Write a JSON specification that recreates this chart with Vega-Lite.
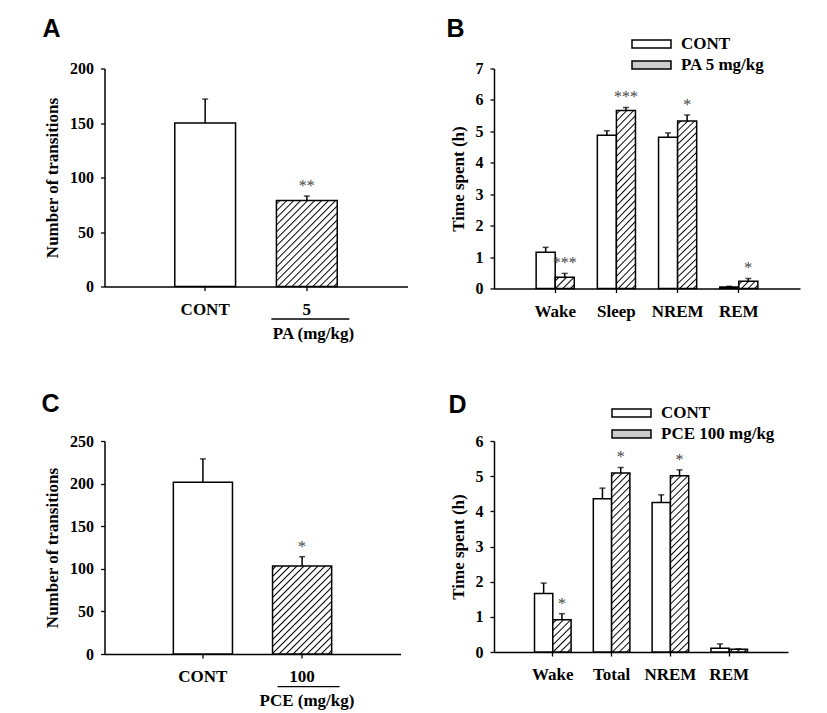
{
"$schema":"https://vega.github.io/schema/vega-lite/v6.json",
"background":"#ffffff",
"padding":{"left":41.5,"top":16.5,"right":5,"bottom":5},
"columns":2,
"spacing":{"row":152.5,"column":86.5},
"bounds":"flush",
"resolve":{"scale":{"fill":"independent","xOffset":"independent"},"legend":{"fill":"independent"}},
"config":{
"view":{"stroke":null},
"font":"Liberation Serif",
"axis":{"grid":false,"domainColor":"#000","domainWidth":1.5,"tickColor":"#000","tickWidth":1.3,"tickSize":4,"labelFont":"Liberation Serif","labelFontWeight":"bold","labelColor":"#000","titleFont":"Liberation Serif","titleFontWeight":"bold","titleColor":"#000"},
"axisX":{"labelFontSize":17,"labelPadding":10.5,"labelAngle":0},
"axisY":{"labelFontSize":16,"labelPadding":7,"titleFontSize":17,"titlePadding":8},
"title":{"font":"Liberation Sans","fontSize":25,"fontWeight":"bold","color":"#000","anchor":"start","frame":"group","baseline":"alphabetic"}
},
"concat":[
{
"width":303,"height":218,
"title":{"text":"A","dx":-62,"offset":18.5},
"data":{"values":[{"group":"CONT","mean":150,"err":172,"sig":""},{"group":"5","mean":79,"err":83,"sig":"**"}]},
"encoding":{
"x":{"field":"group","type":"nominal","title":"PA (mg/kg)","scale":{"domain":["CONT","5"],"paddingInner":0.402,"paddingOuter":0.691},"axis":{"title":"PA (mg/kg)","titleX":208.5,"titleY":47,"titleBaseline":"middle","titleFontSize":17}},
"y":{"field":"mean","type":"quantitative","title":"Number of transitions","scale":{"domain":[0,200],"nice":false},"axis":{"title":"Number of transitions","values":[0,50,100,150,200]}}
},
"layer":[
{"transform":[{"filter":"datum.group == 'CONT'"}],"mark":{"type":"bar","fill":"#fff","stroke":"#000","strokeWidth":1.5}},
{"transform":[{"filter":"datum.group == '5'"}],"mark":{"type":"bar","stroke":"#000","strokeWidth":1.5,"fill":{"gradient":"linear","x1":0,"y1":0,"x2":0.8066,"y2":1.1372,"stops":[{"offset":0.0143,"color":"#fff"},{"offset":0.0238,"color":"#000"},{"offset":0.0333,"color":"#fff"},{"offset":0.0619,"color":"#fff"},{"offset":0.0714,"color":"#000"},{"offset":0.0809,"color":"#fff"},{"offset":0.1095,"color":"#fff"},{"offset":0.119,"color":"#000"},{"offset":0.1285,"color":"#fff"},{"offset":0.1572,"color":"#fff"},{"offset":0.1667,"color":"#000"},{"offset":0.1762,"color":"#fff"},{"offset":0.2048,"color":"#fff"},{"offset":0.2143,"color":"#000"},{"offset":0.2238,"color":"#fff"},{"offset":0.2524,"color":"#fff"},{"offset":0.2619,"color":"#000"},{"offset":0.2714,"color":"#fff"},{"offset":0.3,"color":"#fff"},{"offset":0.3095,"color":"#000"},{"offset":0.319,"color":"#fff"},{"offset":0.3476,"color":"#fff"},{"offset":0.3571,"color":"#000"},{"offset":0.3666,"color":"#fff"},{"offset":0.3953,"color":"#fff"},{"offset":0.4048,"color":"#000"},{"offset":0.4143,"color":"#fff"},{"offset":0.4429,"color":"#fff"},{"offset":0.4524,"color":"#000"},{"offset":0.4619,"color":"#fff"},{"offset":0.4905,"color":"#fff"},{"offset":0.5,"color":"#000"},{"offset":0.5095,"color":"#fff"},{"offset":0.5381,"color":"#fff"},{"offset":0.5476,"color":"#000"},{"offset":0.5571,"color":"#fff"},{"offset":0.5857,"color":"#fff"},{"offset":0.5952,"color":"#000"},{"offset":0.6047,"color":"#fff"},{"offset":0.6334,"color":"#fff"},{"offset":0.6429,"color":"#000"},{"offset":0.6524,"color":"#fff"},{"offset":0.681,"color":"#fff"},{"offset":0.6905,"color":"#000"},{"offset":0.7,"color":"#fff"},{"offset":0.7286,"color":"#fff"},{"offset":0.7381,"color":"#000"},{"offset":0.7476,"color":"#fff"},{"offset":0.7762,"color":"#fff"},{"offset":0.7857,"color":"#000"},{"offset":0.7952,"color":"#fff"},{"offset":0.8238,"color":"#fff"},{"offset":0.8333,"color":"#000"},{"offset":0.8428,"color":"#fff"},{"offset":0.8715,"color":"#fff"},{"offset":0.881,"color":"#000"},{"offset":0.8905,"color":"#fff"},{"offset":0.9191,"color":"#fff"},{"offset":0.9286,"color":"#000"},{"offset":0.9381,"color":"#fff"},{"offset":0.9667,"color":"#fff"},{"offset":0.9762,"color":"#000"},{"offset":0.9857,"color":"#fff"}]}}},
{"mark":{"type":"rule","color":"#000","strokeWidth":1.5},"encoding":{"y2":{"field":"err"}}},
{"mark":{"type":"tick","color":"#000","size":6,"thickness":1.5},"encoding":{"y":{"field":"err","type":"quantitative","title":"Number of transitions"}}},
{"mark":{"type":"text","font":"Liberation Serif","fontSize":16,"fill":"#444","baseline":"alphabetic","dy":-5},"encoding":{"y":{"field":"err","type":"quantitative","title":"Number of transitions"},"text":{"field":"sig"}}},
{"transform":[{"filter":"datum.group == '5'"}],"mark":{"type":"rule","color":"#000","strokeWidth":1.3,"xOffset":-35.5,"x2Offset":42.5,"yOffset":32.5},"encoding":{"x":{"datum":"5","title":"PA (mg/kg)"},"x2":{"datum":"5"},"y":{"datum":0,"title":"Number of transitions"}}}
]
},
{
"width":306,"height":220,
"title":{"text":"B","dx":-47.5,"offset":-5.5},
"data":{"values":[
{"state":"Wake","treat":"CONT","mean":1.15,"err":1.31,"sig":""},
{"state":"Wake","treat":"PA 5 mg/kg","mean":0.36,"err":0.48,"sig":"***"},
{"state":"Sleep","treat":"CONT","mean":4.88,"err":5.02,"sig":""},
{"state":"Sleep","treat":"PA 5 mg/kg","mean":5.66,"err":5.76,"sig":"***"},
{"state":"NREM","treat":"CONT","mean":4.81,"err":4.95,"sig":""},
{"state":"NREM","treat":"PA 5 mg/kg","mean":5.33,"err":5.52,"sig":"*"},
{"state":"REM","treat":"CONT","mean":0.05,"err":0.07,"sig":""},
{"state":"REM","treat":"PA 5 mg/kg","mean":0.23,"err":0.32,"sig":"*"}
]},
"encoding":{
"x":{"field":"state","type":"nominal","scale":{"domain":["Wake","Sleep","NREM","REM"],"paddingInner":0.377,"paddingOuter":0.6885},"axis":{"title":null}},
"xOffset":{"field":"treat","type":"nominal","scale":{"domain":["CONT","PA 5 mg/kg"]}},
"y":{"field":"mean","type":"quantitative","title":"Time spent (h)","scale":{"domain":[0,7],"nice":false},"axis":{"title":"Time spent (h)","values":[0,1,2,3,4,5,6,7]}}
},
"layer":[
{"transform":[{"filter":"datum.treat == 'CONT'"}],"mark":{"type":"bar","stroke":"#000","strokeWidth":1.5},
"encoding":{"fill":{"field":"treat","type":"nominal","scale":{"domain":["CONT","PA 5 mg/kg"],"range":["#fff","#ccc"]},
"legend":{"title":null,"orient":"none","legendX":137,"legendY":-32.5,"direction":"vertical","symbolType":"M-1,-0.205L1,-0.205L1,0.205L-1,0.205Z","symbolSize":1521,"symbolStrokeColor":"#000","symbolStrokeWidth":1.5,"symbolOpacity":1,"labelFont":"Liberation Serif","labelFontSize":17,"labelFontWeight":"bold","labelColor":"#000","labelOffset":9,"rowPadding":4,"clipHeight":16,"padding":0,
"encoding":{"symbols":{"stroke":{"value":"#000"},"strokeWidth":{"value":1.5},"fill":{"value":{"expr":"datum.value === 'CONT' ? '#fff' : {gradient: 'linear', x1: 0, y1: 0, x2: 1.1565, y2: 0.2372, stops: [{offset: 0.0434, color: '#fff'}, {offset: 0.0714, color: '#000'}, {offset: 0.0994, color: '#fff'}, {offset: 0.1863, color: '#fff'}, {offset: 0.2143, color: '#000'}, {offset: 0.2423, color: '#fff'}, {offset: 0.3291, color: '#fff'}, {offset: 0.3571, color: '#000'}, {offset: 0.3851, color: '#fff'}, {offset: 0.472, color: '#fff'}, {offset: 0.5, color: '#000'}, {offset: 0.528, color: '#fff'}, {offset: 0.6149, color: '#fff'}, {offset: 0.6429, color: '#000'}, {offset: 0.6709, color: '#fff'}, {offset: 0.7577, color: '#fff'}, {offset: 0.7857, color: '#000'}, {offset: 0.8137, color: '#fff'}, {offset: 0.9006, color: '#fff'}, {offset: 0.9286, color: '#000'}, {offset: 0.9566, color: '#fff'}]}"}}}}}}}},
{"transform":[{"filter":"datum.treat != 'CONT' && datum.state == 'Wake'"}],"mark":{"type":"bar","stroke":"#000","strokeWidth":1.5,"fill":{"gradient":"linear","x1":0,"y1":0,"x2":1.178,"y2":0.7006,"stops":[{"offset":0.075,"color":"#fff"},{"offset":0.125,"color":"#000"},{"offset":0.175,"color":"#fff"},{"offset":0.325,"color":"#fff"},{"offset":0.375,"color":"#000"},{"offset":0.425,"color":"#fff"},{"offset":0.575,"color":"#fff"},{"offset":0.625,"color":"#000"},{"offset":0.675,"color":"#fff"},{"offset":0.825,"color":"#fff"},{"offset":0.875,"color":"#000"},{"offset":0.925,"color":"#fff"}]}}},
{"transform":[{"filter":"datum.treat != 'CONT' && (datum.state == 'Sleep' || datum.state == 'NREM')"}],"mark":{"type":"bar","stroke":"#000","strokeWidth":1.5,"fill":{"gradient":"linear","x1":0,"y1":0,"x2":0.121,"y2":1.097,"stops":[{"offset":0.0109,"color":"#fff"},{"offset":0.0179,"color":"#000"},{"offset":0.0249,"color":"#fff"},{"offset":0.0466,"color":"#fff"},{"offset":0.0536,"color":"#000"},{"offset":0.0606,"color":"#fff"},{"offset":0.0823,"color":"#fff"},{"offset":0.0893,"color":"#000"},{"offset":0.0963,"color":"#fff"},{"offset":0.118,"color":"#fff"},{"offset":0.125,"color":"#000"},{"offset":0.132,"color":"#fff"},{"offset":0.1537,"color":"#fff"},{"offset":0.1607,"color":"#000"},{"offset":0.1677,"color":"#fff"},{"offset":0.1894,"color":"#fff"},{"offset":0.1964,"color":"#000"},{"offset":0.2034,"color":"#fff"},{"offset":0.2251,"color":"#fff"},{"offset":0.2321,"color":"#000"},{"offset":0.2391,"color":"#fff"},{"offset":0.2609,"color":"#fff"},{"offset":0.2679,"color":"#000"},{"offset":0.2749,"color":"#fff"},{"offset":0.2966,"color":"#fff"},{"offset":0.3036,"color":"#000"},{"offset":0.3106,"color":"#fff"},{"offset":0.3323,"color":"#fff"},{"offset":0.3393,"color":"#000"},{"offset":0.3463,"color":"#fff"},{"offset":0.368,"color":"#fff"},{"offset":0.375,"color":"#000"},{"offset":0.382,"color":"#fff"},{"offset":0.4037,"color":"#fff"},{"offset":0.4107,"color":"#000"},{"offset":0.4177,"color":"#fff"},{"offset":0.4394,"color":"#fff"},{"offset":0.4464,"color":"#000"},{"offset":0.4534,"color":"#fff"},{"offset":0.4751,"color":"#fff"},{"offset":0.4821,"color":"#000"},{"offset":0.4891,"color":"#fff"},{"offset":0.5109,"color":"#fff"},{"offset":0.5179,"color":"#000"},{"offset":0.5249,"color":"#fff"},{"offset":0.5466,"color":"#fff"},{"offset":0.5536,"color":"#000"},{"offset":0.5606,"color":"#fff"},{"offset":0.5823,"color":"#fff"},{"offset":0.5893,"color":"#000"},{"offset":0.5963,"color":"#fff"},{"offset":0.618,"color":"#fff"},{"offset":0.625,"color":"#000"},{"offset":0.632,"color":"#fff"},{"offset":0.6537,"color":"#fff"},{"offset":0.6607,"color":"#000"},{"offset":0.6677,"color":"#fff"},{"offset":0.6894,"color":"#fff"},{"offset":0.6964,"color":"#000"},{"offset":0.7034,"color":"#fff"},{"offset":0.7251,"color":"#fff"},{"offset":0.7321,"color":"#000"},{"offset":0.7391,"color":"#fff"},{"offset":0.7609,"color":"#fff"},{"offset":0.7679,"color":"#000"},{"offset":0.7749,"color":"#fff"},{"offset":0.7966,"color":"#fff"},{"offset":0.8036,"color":"#000"},{"offset":0.8106,"color":"#fff"},{"offset":0.8323,"color":"#fff"},{"offset":0.8393,"color":"#000"},{"offset":0.8463,"color":"#fff"},{"offset":0.868,"color":"#fff"},{"offset":0.875,"color":"#000"},{"offset":0.882,"color":"#fff"},{"offset":0.9037,"color":"#fff"},{"offset":0.9107,"color":"#000"},{"offset":0.9177,"color":"#fff"},{"offset":0.9394,"color":"#fff"},{"offset":0.9464,"color":"#000"},{"offset":0.9534,"color":"#fff"},{"offset":0.9751,"color":"#fff"},{"offset":0.9821,"color":"#000"},{"offset":0.9891,"color":"#fff"}]}}},
{"transform":[{"filter":"datum.treat != 'CONT' && datum.state == 'REM'"}],"mark":{"type":"bar","stroke":"#000","strokeWidth":1.5,"fill":{"gradient":"linear","x1":0,"y1":0,"x2":1.206,"y2":0.457,"stops":[{"offset":0.075,"color":"#fff"},{"offset":0.125,"color":"#000"},{"offset":0.175,"color":"#fff"},{"offset":0.325,"color":"#fff"},{"offset":0.375,"color":"#000"},{"offset":0.425,"color":"#fff"},{"offset":0.575,"color":"#fff"},{"offset":0.625,"color":"#000"},{"offset":0.675,"color":"#fff"},{"offset":0.825,"color":"#fff"},{"offset":0.875,"color":"#000"},{"offset":0.925,"color":"#fff"}]}}},
{"mark":{"type":"rule","color":"#000","strokeWidth":1.5},"encoding":{"y2":{"field":"err"}}},
{"mark":{"type":"tick","color":"#000","size":6,"thickness":1.5},"encoding":{"y":{"field":"err","type":"quantitative","title":"Time spent (h)"}}},
{"mark":{"type":"text","font":"Liberation Serif","fontSize":16,"fill":"#444","baseline":"alphabetic","dy":-5},"encoding":{"y":{"field":"err","type":"quantitative","title":"Time spent (h)"},"text":{"field":"sig"}}}
]
},
{
"width":296,"height":213,
"title":{"text":"C","dx":-63,"offset":16},
"data":{"values":[{"group":"CONT","mean":201.5,"err":229,"sig":""},{"group":"100","mean":103.3,"err":114.2,"sig":"*"}]},
"encoding":{
"x":{"field":"group","type":"nominal","title":"PCE (mg/kg)","scale":{"domain":["CONT","100"],"paddingInner":0.404,"paddingOuter":0.694},"axis":{"title":"PCE (mg/kg)","titleX":202,"titleY":46,"titleBaseline":"middle","titleFontSize":17}},
"y":{"field":"mean","type":"quantitative","title":"Number of transitions","scale":{"domain":[0,250],"nice":false},"axis":{"title":"Number of transitions","values":[0,50,100,150,200,250]}}
},
"layer":[
{"transform":[{"filter":"datum.group == 'CONT'"}],"mark":{"type":"bar","fill":"#fff","stroke":"#000","strokeWidth":1.5}},
{"transform":[{"filter":"datum.group == '100'"}],"mark":{"type":"bar","stroke":"#000","strokeWidth":1.5,"fill":{"gradient":"linear","x1":0,"y1":0,"x2":0.7727,"y2":1.1524,"stops":[{"offset":0.0143,"color":"#fff"},{"offset":0.0238,"color":"#000"},{"offset":0.0333,"color":"#fff"},{"offset":0.0619,"color":"#fff"},{"offset":0.0714,"color":"#000"},{"offset":0.0809,"color":"#fff"},{"offset":0.1095,"color":"#fff"},{"offset":0.119,"color":"#000"},{"offset":0.1285,"color":"#fff"},{"offset":0.1572,"color":"#fff"},{"offset":0.1667,"color":"#000"},{"offset":0.1762,"color":"#fff"},{"offset":0.2048,"color":"#fff"},{"offset":0.2143,"color":"#000"},{"offset":0.2238,"color":"#fff"},{"offset":0.2524,"color":"#fff"},{"offset":0.2619,"color":"#000"},{"offset":0.2714,"color":"#fff"},{"offset":0.3,"color":"#fff"},{"offset":0.3095,"color":"#000"},{"offset":0.319,"color":"#fff"},{"offset":0.3476,"color":"#fff"},{"offset":0.3571,"color":"#000"},{"offset":0.3666,"color":"#fff"},{"offset":0.3953,"color":"#fff"},{"offset":0.4048,"color":"#000"},{"offset":0.4143,"color":"#fff"},{"offset":0.4429,"color":"#fff"},{"offset":0.4524,"color":"#000"},{"offset":0.4619,"color":"#fff"},{"offset":0.4905,"color":"#fff"},{"offset":0.5,"color":"#000"},{"offset":0.5095,"color":"#fff"},{"offset":0.5381,"color":"#fff"},{"offset":0.5476,"color":"#000"},{"offset":0.5571,"color":"#fff"},{"offset":0.5857,"color":"#fff"},{"offset":0.5952,"color":"#000"},{"offset":0.6047,"color":"#fff"},{"offset":0.6334,"color":"#fff"},{"offset":0.6429,"color":"#000"},{"offset":0.6524,"color":"#fff"},{"offset":0.681,"color":"#fff"},{"offset":0.6905,"color":"#000"},{"offset":0.7,"color":"#fff"},{"offset":0.7286,"color":"#fff"},{"offset":0.7381,"color":"#000"},{"offset":0.7476,"color":"#fff"},{"offset":0.7762,"color":"#fff"},{"offset":0.7857,"color":"#000"},{"offset":0.7952,"color":"#fff"},{"offset":0.8238,"color":"#fff"},{"offset":0.8333,"color":"#000"},{"offset":0.8428,"color":"#fff"},{"offset":0.8715,"color":"#fff"},{"offset":0.881,"color":"#000"},{"offset":0.8905,"color":"#fff"},{"offset":0.9191,"color":"#fff"},{"offset":0.9286,"color":"#000"},{"offset":0.9381,"color":"#fff"},{"offset":0.9667,"color":"#fff"},{"offset":0.9762,"color":"#000"},{"offset":0.9857,"color":"#fff"}]}}},
{"mark":{"type":"rule","color":"#000","strokeWidth":1.5},"encoding":{"y2":{"field":"err"}}},
{"mark":{"type":"tick","color":"#000","size":6,"thickness":1.5},"encoding":{"y":{"field":"err","type":"quantitative","title":"Number of transitions"}}},
{"mark":{"type":"text","font":"Liberation Serif","fontSize":16,"fill":"#444","baseline":"alphabetic","dy":-5},"encoding":{"y":{"field":"err","type":"quantitative","title":"Number of transitions"},"text":{"field":"sig"}}},
{"transform":[{"filter":"datum.group == '100'"}],"mark":{"type":"rule","color":"#000","strokeWidth":1.3,"xOffset":-24.5,"x2Offset":37.5,"yOffset":32.7},"encoding":{"x":{"datum":"100","title":"PCE (mg/kg)"},"x2":{"datum":"100"},"y":{"datum":0,"title":"Number of transitions"}}}
]
},
{
"width":294,"height":211,
"title":{"text":"D","dx":-45.5,"offset":-12.5},
"data":{"values":[
{"state":"Wake","treat":"CONT","mean":1.66,"err":1.96,"sig":""},
{"state":"Wake","treat":"PCE 100 mg/kg","mean":0.92,"err":1.09,"sig":"*"},
{"state":"Total","treat":"CONT","mean":4.36,"err":4.66,"sig":""},
{"state":"Total","treat":"PCE 100 mg/kg","mean":5.09,"err":5.25,"sig":"*"},
{"state":"NREM","treat":"CONT","mean":4.25,"err":4.47,"sig":""},
{"state":"NREM","treat":"PCE 100 mg/kg","mean":5.01,"err":5.18,"sig":"*"},
{"state":"REM","treat":"CONT","mean":0.11,"err":0.23,"sig":""},
{"state":"REM","treat":"PCE 100 mg/kg","mean":0.08,"err":0.09,"sig":""}
]},
"encoding":{
"x":{"field":"state","type":"nominal","scale":{"domain":["Wake","Total","NREM","REM"],"paddingInner":0.378,"paddingOuter":0.689},"axis":{"title":null}},
"xOffset":{"field":"treat","type":"nominal","scale":{"domain":["CONT","PCE 100 mg/kg"]}},
"y":{"field":"mean","type":"quantitative","title":"Time spent (h)","scale":{"domain":[0,6],"nice":false},"axis":{"title":"Time spent (h)","values":[0,1,2,3,4,5,6]}}
},
"layer":[
{"transform":[{"filter":"datum.treat == 'CONT'"}],"mark":{"type":"bar","stroke":"#000","strokeWidth":1.5},
"encoding":{"fill":{"field":"treat","type":"nominal","scale":{"domain":["CONT","PCE 100 mg/kg"],"range":["#fff","#ccc"]},
"legend":{"title":null,"orient":"none","legendX":117,"legendY":-36,"direction":"vertical","symbolType":"M-1,-0.205L1,-0.205L1,0.205L-1,0.205Z","symbolSize":1521,"symbolStrokeColor":"#000","symbolStrokeWidth":1.5,"symbolOpacity":1,"labelFont":"Liberation Serif","labelFontSize":17,"labelFontWeight":"bold","labelColor":"#000","labelOffset":9,"rowPadding":4,"clipHeight":16,"padding":0,
"encoding":{"symbols":{"stroke":{"value":"#000"},"strokeWidth":{"value":1.5},"fill":{"value":{"expr":"datum.value === 'CONT' ? '#fff' : {gradient: 'linear', x1: 0, y1: 0, x2: 1.1565, y2: 0.2372, stops: [{offset: 0.0434, color: '#fff'}, {offset: 0.0714, color: '#000'}, {offset: 0.0994, color: '#fff'}, {offset: 0.1863, color: '#fff'}, {offset: 0.2143, color: '#000'}, {offset: 0.2423, color: '#fff'}, {offset: 0.3291, color: '#fff'}, {offset: 0.3571, color: '#000'}, {offset: 0.3851, color: '#fff'}, {offset: 0.472, color: '#fff'}, {offset: 0.5, color: '#000'}, {offset: 0.528, color: '#fff'}, {offset: 0.6149, color: '#fff'}, {offset: 0.6429, color: '#000'}, {offset: 0.6709, color: '#fff'}, {offset: 0.7577, color: '#fff'}, {offset: 0.7857, color: '#000'}, {offset: 0.8137, color: '#fff'}, {offset: 0.9006, color: '#fff'}, {offset: 0.9286, color: '#000'}, {offset: 0.9566, color: '#fff'}]}"}}}}}}}},
{"transform":[{"filter":"datum.treat != 'CONT' && datum.state == 'Wake'"}],"mark":{"type":"bar","stroke":"#000","strokeWidth":1.5,"fill":{"gradient":"linear","x1":0,"y1":0,"x2":0.6685,"y2":1.1868,"stops":[{"offset":0.0434,"color":"#fff"},{"offset":0.0714,"color":"#000"},{"offset":0.0994,"color":"#fff"},{"offset":0.1863,"color":"#fff"},{"offset":0.2143,"color":"#000"},{"offset":0.2423,"color":"#fff"},{"offset":0.3291,"color":"#fff"},{"offset":0.3571,"color":"#000"},{"offset":0.3851,"color":"#fff"},{"offset":0.472,"color":"#fff"},{"offset":0.5,"color":"#000"},{"offset":0.528,"color":"#fff"},{"offset":0.6149,"color":"#fff"},{"offset":0.6429,"color":"#000"},{"offset":0.6709,"color":"#fff"},{"offset":0.7577,"color":"#fff"},{"offset":0.7857,"color":"#000"},{"offset":0.8137,"color":"#fff"},{"offset":0.9006,"color":"#fff"},{"offset":0.9286,"color":"#000"},{"offset":0.9566,"color":"#fff"}]}}},
{"transform":[{"filter":"datum.treat != 'CONT' && (datum.state == 'Total' || datum.state == 'NREM')"}],"mark":{"type":"bar","stroke":"#000","strokeWidth":1.5,"fill":{"gradient":"linear","x1":0,"y1":0,"x2":0.112,"y2":1.091,"stops":[{"offset":0.0109,"color":"#fff"},{"offset":0.0179,"color":"#000"},{"offset":0.0249,"color":"#fff"},{"offset":0.0466,"color":"#fff"},{"offset":0.0536,"color":"#000"},{"offset":0.0606,"color":"#fff"},{"offset":0.0823,"color":"#fff"},{"offset":0.0893,"color":"#000"},{"offset":0.0963,"color":"#fff"},{"offset":0.118,"color":"#fff"},{"offset":0.125,"color":"#000"},{"offset":0.132,"color":"#fff"},{"offset":0.1537,"color":"#fff"},{"offset":0.1607,"color":"#000"},{"offset":0.1677,"color":"#fff"},{"offset":0.1894,"color":"#fff"},{"offset":0.1964,"color":"#000"},{"offset":0.2034,"color":"#fff"},{"offset":0.2251,"color":"#fff"},{"offset":0.2321,"color":"#000"},{"offset":0.2391,"color":"#fff"},{"offset":0.2609,"color":"#fff"},{"offset":0.2679,"color":"#000"},{"offset":0.2749,"color":"#fff"},{"offset":0.2966,"color":"#fff"},{"offset":0.3036,"color":"#000"},{"offset":0.3106,"color":"#fff"},{"offset":0.3323,"color":"#fff"},{"offset":0.3393,"color":"#000"},{"offset":0.3463,"color":"#fff"},{"offset":0.368,"color":"#fff"},{"offset":0.375,"color":"#000"},{"offset":0.382,"color":"#fff"},{"offset":0.4037,"color":"#fff"},{"offset":0.4107,"color":"#000"},{"offset":0.4177,"color":"#fff"},{"offset":0.4394,"color":"#fff"},{"offset":0.4464,"color":"#000"},{"offset":0.4534,"color":"#fff"},{"offset":0.4751,"color":"#fff"},{"offset":0.4821,"color":"#000"},{"offset":0.4891,"color":"#fff"},{"offset":0.5109,"color":"#fff"},{"offset":0.5179,"color":"#000"},{"offset":0.5249,"color":"#fff"},{"offset":0.5466,"color":"#fff"},{"offset":0.5536,"color":"#000"},{"offset":0.5606,"color":"#fff"},{"offset":0.5823,"color":"#fff"},{"offset":0.5893,"color":"#000"},{"offset":0.5963,"color":"#fff"},{"offset":0.618,"color":"#fff"},{"offset":0.625,"color":"#000"},{"offset":0.632,"color":"#fff"},{"offset":0.6537,"color":"#fff"},{"offset":0.6607,"color":"#000"},{"offset":0.6677,"color":"#fff"},{"offset":0.6894,"color":"#fff"},{"offset":0.6964,"color":"#000"},{"offset":0.7034,"color":"#fff"},{"offset":0.7251,"color":"#fff"},{"offset":0.7321,"color":"#000"},{"offset":0.7391,"color":"#fff"},{"offset":0.7609,"color":"#fff"},{"offset":0.7679,"color":"#000"},{"offset":0.7749,"color":"#fff"},{"offset":0.7966,"color":"#fff"},{"offset":0.8036,"color":"#000"},{"offset":0.8106,"color":"#fff"},{"offset":0.8323,"color":"#fff"},{"offset":0.8393,"color":"#000"},{"offset":0.8463,"color":"#fff"},{"offset":0.868,"color":"#fff"},{"offset":0.875,"color":"#000"},{"offset":0.882,"color":"#fff"},{"offset":0.9037,"color":"#fff"},{"offset":0.9107,"color":"#000"},{"offset":0.9177,"color":"#fff"},{"offset":0.9394,"color":"#fff"},{"offset":0.9464,"color":"#000"},{"offset":0.9534,"color":"#fff"},{"offset":0.9751,"color":"#fff"},{"offset":0.9821,"color":"#000"},{"offset":0.9891,"color":"#fff"}]}}},
{"transform":[{"filter":"datum.treat != 'CONT' && datum.state == 'REM'"}],"mark":{"type":"bar","stroke":"#000","strokeWidth":1.5,"fill":{"gradient":"linear","x1":0,"y1":0,"x2":1.127,"y2":0.173,"stops":[{"offset":0.1,"color":"#fff"},{"offset":0.1667,"color":"#000"},{"offset":0.2333,"color":"#fff"},{"offset":0.4333,"color":"#fff"},{"offset":0.5,"color":"#000"},{"offset":0.5667,"color":"#fff"},{"offset":0.7667,"color":"#fff"},{"offset":0.8333,"color":"#000"},{"offset":0.9,"color":"#fff"}]}}},
{"mark":{"type":"rule","color":"#000","strokeWidth":1.5},"encoding":{"y2":{"field":"err"}}},
{"mark":{"type":"tick","color":"#000","size":6,"thickness":1.5},"encoding":{"y":{"field":"err","type":"quantitative","title":"Time spent (h)"}}},
{"mark":{"type":"text","font":"Liberation Serif","fontSize":16,"fill":"#444","baseline":"alphabetic","dy":-5},"encoding":{"y":{"field":"err","type":"quantitative","title":"Time spent (h)"},"text":{"field":"sig"}}}
]
}
]
}
